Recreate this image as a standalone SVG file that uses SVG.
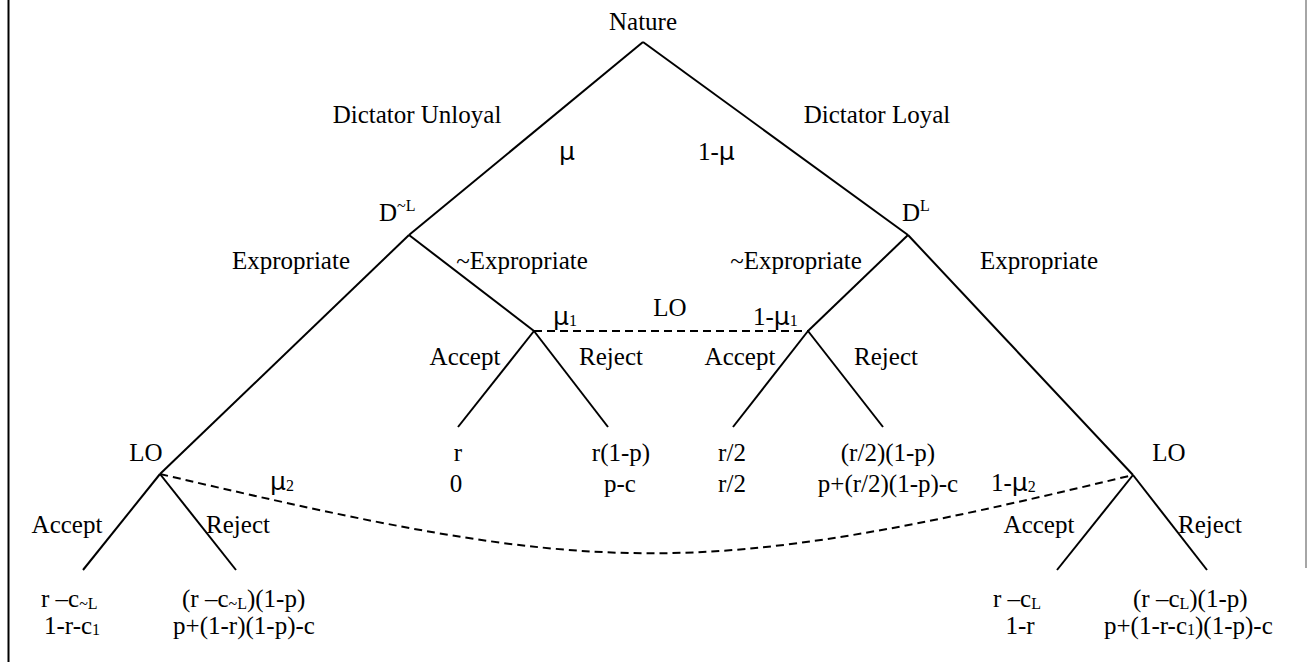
<svg xmlns="http://www.w3.org/2000/svg" width="1307" height="666" viewBox="0 0 1307 666">
<style>
text{font-family:"Liberation Serif","Times New Roman",serif;font-size:25px;fill:#000}
.m{text-anchor:middle}
.s{font-size:16px}
.g{font-family:"DejaVu Sans","Liberation Sans",sans-serif;font-size:25px}
.e{stroke:#000;stroke-width:2;fill:none}
.d{stroke:#000;stroke-width:2;fill:none;stroke-dasharray:8 5}
</style>
<rect width="1307" height="666" fill="#fff"/>
<g id="frame">
<line x1="8.5" y1="0" x2="8.5" y2="662" stroke="#000" stroke-width="2"/>
<line x1="1306" y1="0" x2="1306" y2="568" stroke="#888" stroke-width="1.5"/>
</g>
<g id="connectors">
<line class="e" x1="643" y1="42" x2="409" y2="235"/>
<line class="e" x1="643" y1="42" x2="908" y2="235"/>
<line class="e" x1="409" y1="235" x2="160" y2="474"/>
<line class="e" x1="409" y1="235" x2="534" y2="331"/>
<line class="e" x1="908" y1="235" x2="808" y2="331"/>
<line class="e" x1="908" y1="235" x2="1133" y2="475"/>
<line class="e" x1="534" y1="331" x2="458" y2="427"/>
<line class="e" x1="534" y1="331" x2="608" y2="427"/>
<line class="e" x1="808" y1="331" x2="733" y2="427"/>
<line class="e" x1="808" y1="331" x2="883" y2="427"/>
<line class="e" x1="160" y1="474" x2="83" y2="570"/>
<line class="e" x1="160" y1="474" x2="236" y2="570"/>
<line class="e" x1="1133" y1="475" x2="1057" y2="570"/>
<line class="e" x1="1133" y1="475" x2="1207" y2="570"/>
<line class="d" x1="534" y1="331" x2="808" y2="331"/>
<path class="d" d="M160,474 C600,577 690,582 1133,475"/>
</g>
<g id="nature">
<text class="m" x="643" y="30">Nature</text>
<text class="m" x="417" y="123">Dictator Unloyal</text>
<text class="m" x="877" y="123">Dictator Loyal</text>
<text class="m g" x="567" y="160">μ</text>
<text x="698" y="160">1-<tspan class="g">μ</tspan></text>
</g>
<g id="d-unloyal">
<text x="379" y="221">D<tspan class="s" dy="-10">~L</tspan></text>
<text class="m" x="291" y="269">Expropriate</text>
<text class="m" x="522" y="269">~Expropriate</text>
</g>
<g id="d-loyal">
<text x="902" y="221">D<tspan class="s" dy="-10">L</tspan></text>
<text class="m" x="796" y="269">~Expropriate</text>
<text class="m" x="1039" y="269">Expropriate</text>
</g>
<g id="lo-mid">
<text x="553" y="325"><tspan class="g">μ</tspan><tspan class="s" dy="1">1</tspan></text>
<text class="m" x="670" y="316">LO</text>
<text x="753" y="325">1-<tspan class="g">μ</tspan><tspan class="s" dy="1">1</tspan></text>
<text class="m" x="465" y="365">Accept</text>
<text class="m" x="611" y="365">Reject</text>
<text class="m" x="740" y="365">Accept</text>
<text class="m" x="886" y="365">Reject</text>
</g>
<g id="payoffs-mid">
<text class="m" x="458" y="461">r</text>
<text class="m" x="456" y="492">0</text>
<text class="m" x="621" y="461">r(1-p)</text>
<text class="m" x="620" y="492">p-c</text>
<text class="m" x="732" y="461">r/2</text>
<text class="m" x="732" y="492">r/2</text>
<text class="m" x="888" y="461">(r/2)(1-p)</text>
<text class="m" x="888" y="492">p+(r/2)(1-p)-c</text>
</g>
<g id="lo-left">
<text class="m" x="146" y="461">LO</text>
<text x="270" y="490"><tspan class="g">μ</tspan><tspan class="s" dy="1">2</tspan></text>
<text class="m" x="67" y="533">Accept</text>
<text class="m" x="238" y="533">Reject</text>
<text x="41" y="607">r –c<tspan class="s" dy="2">~L</tspan></text>
<text x="44" y="634">1-r-c<tspan class="s" dy="1">1</tspan></text>
<text x="182" y="607">(r –c<tspan class="s" dy="2">~L</tspan><tspan dy="-2">)(1-p)</tspan></text>
<text class="m" x="244" y="634">p+(1-r)(1-p)-c</text>
</g>
<g id="lo-right">
<text class="m" x="1169" y="461">LO</text>
<text x="991" y="491">1-<tspan class="g">μ</tspan><tspan class="s" dy="1">2</tspan></text>
<text class="m" x="1039" y="533">Accept</text>
<text class="m" x="1210" y="533">Reject</text>
<text x="993" y="607">r –c<tspan class="s" dy="2">L</tspan></text>
<text class="m" x="1020" y="634">1-r</text>
<text x="1133" y="607">(r –c<tspan class="s" dy="2">L</tspan><tspan dy="-2">)(1-p)</tspan></text>
<text x="1104" y="634">p+(1-r-c<tspan class="s" dy="1">1</tspan><tspan dy="-1">)(1-p)-c</tspan></text>
</g>
</svg>
